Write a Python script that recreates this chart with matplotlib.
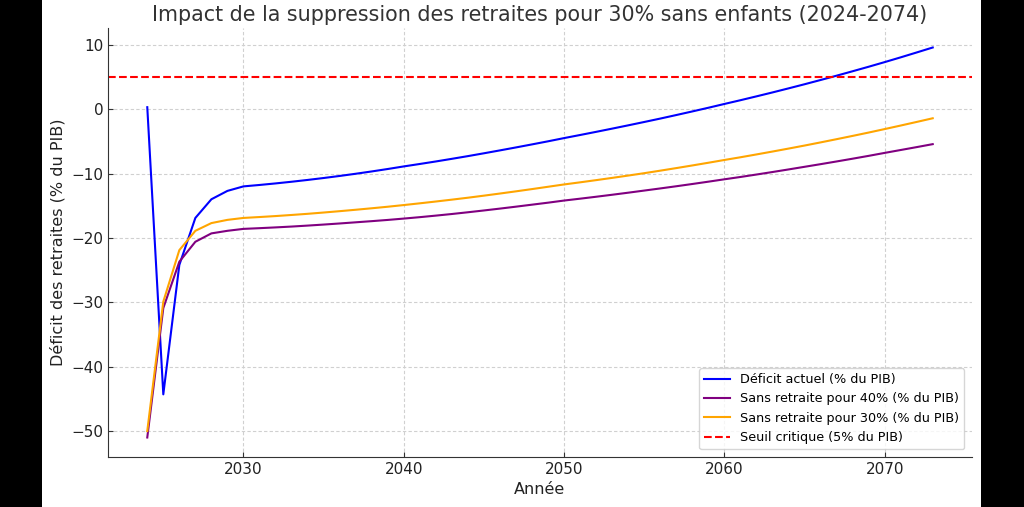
import matplotlib.pyplot as plt
import matplotlib.patches as patches

# Years 2024-2073
years = list(range(2024, 2074))

# Déficit actuel (% du PIB)
deficit_actuel = [
    0.3, -44.3, -24.2, -16.9, -14.0, -12.7,
    -12.0, -11.78, -11.54, -11.28, -11.00, -10.70, -10.38, -10.04, -9.68, -9.30,
    -8.90, -8.52, -8.13, -7.72, -7.30, -6.86, -6.41, -5.95, -5.48, -5.00,
    -4.50, -4.02, -3.53, -3.03, -2.52, -2.00, -1.47, -0.92, -0.36, 0.21,
    0.80, 1.38, 1.98, 2.59, 3.22, 3.86, 4.52, 5.19, 5.88, 6.58,
    7.30, 8.04, 8.80, 9.57,
]

# Sans retraite pour 40%
sans_40 = [
    -51.0, -30.9, -23.7, -20.6, -19.3, -18.9,
    -18.6, -18.49, -18.37, -18.24, -18.09, -17.93, -17.76, -17.58, -17.40, -17.21,
    -17.00, -16.78, -16.54, -16.29, -16.02, -15.74, -15.45, -15.15, -14.84, -14.53,
    -14.20, -13.91, -13.61, -13.30, -12.98, -12.65, -12.32, -11.98, -11.63, -11.27,
    -10.90, -10.54, -10.16, -9.77, -9.37, -8.96, -8.55, -8.13, -7.70, -7.26,
    -6.80, -6.35, -5.90, -5.44,
]

# Sans retraite pour 30%
sans_30 = [
    -50.0, -29.9, -21.9, -18.9, -17.7, -17.2,
    -16.9, -16.76, -16.61, -16.44, -16.26, -16.06, -15.85, -15.63, -15.40, -15.16,
    -14.90, -14.63, -14.35, -14.06, -13.76, -13.44, -13.11, -12.77, -12.42, -12.06,
    -11.70, -11.37, -11.03, -10.68, -10.32, -9.95, -9.56, -9.16, -8.75, -8.33,
    -7.90, -7.48, -7.04, -6.59, -6.13, -5.66, -5.17, -4.67, -4.16, -3.64,
    -3.10, -2.55, -1.99, -1.42,
]

seuil = 5

fig = plt.figure(figsize=(10.24, 5.07), dpi=100, facecolor='white')
# black side bars (letterbox)
fig.add_artist(patches.Rectangle((0, 0), 42 / 1024, 1, transform=fig.transFigure,
                                 facecolor='black', edgecolor='none'))
fig.add_artist(patches.Rectangle((981 / 1024, 0), 43 / 1024, 1, transform=fig.transFigure,
                                 facecolor='black', edgecolor='none'))

ax = fig.add_axes([108 / 1024, 1 - 457 / 507, (972 - 108) / 1024, (457 - 28) / 507])

ax.plot(years, deficit_actuel, color='blue', linewidth=1.5, label='Déficit actuel (% du PIB)')
ax.plot(years, sans_40, color='purple', linewidth=1.5, label='Sans retraite pour 40% (% du PIB)')
ax.plot(years, sans_30, color='orange', linewidth=1.5, label='Sans retraite pour 30% (% du PIB)')
ax.axhline(seuil, color='red', linestyle='--', linewidth=1.5, label='Seuil critique (5% du PIB)')

ax.set_title('Impact de la suppression des retraites pour 30% sans enfants (2024-2074)',
             fontsize=14.9, color='#333333', pad=5)
ax.set_xlabel('Année', fontsize=11.5, color='#222222')
ax.set_ylabel('Déficit des retraites (% du PIB)', fontsize=11.5, color='#222222')

ax.grid(True, linestyle=(0, (3, 2)), color='#d0d0d0', linewidth=0.8)
ax.set_axisbelow(True)
for side in ['top', 'right']:
    ax.spines[side].set_visible(False)
for side in ['left', 'bottom']:
    ax.spines[side].set_color('#333333')
ax.tick_params(direction='in', labelsize=11, colors='#333333', labelcolor='#222222')

ax.legend(loc='lower right', fontsize=9.2, framealpha=0.8, edgecolor='#cccccc',
          borderaxespad=0.6)

fig.savefig('out.png', dpi=100)
